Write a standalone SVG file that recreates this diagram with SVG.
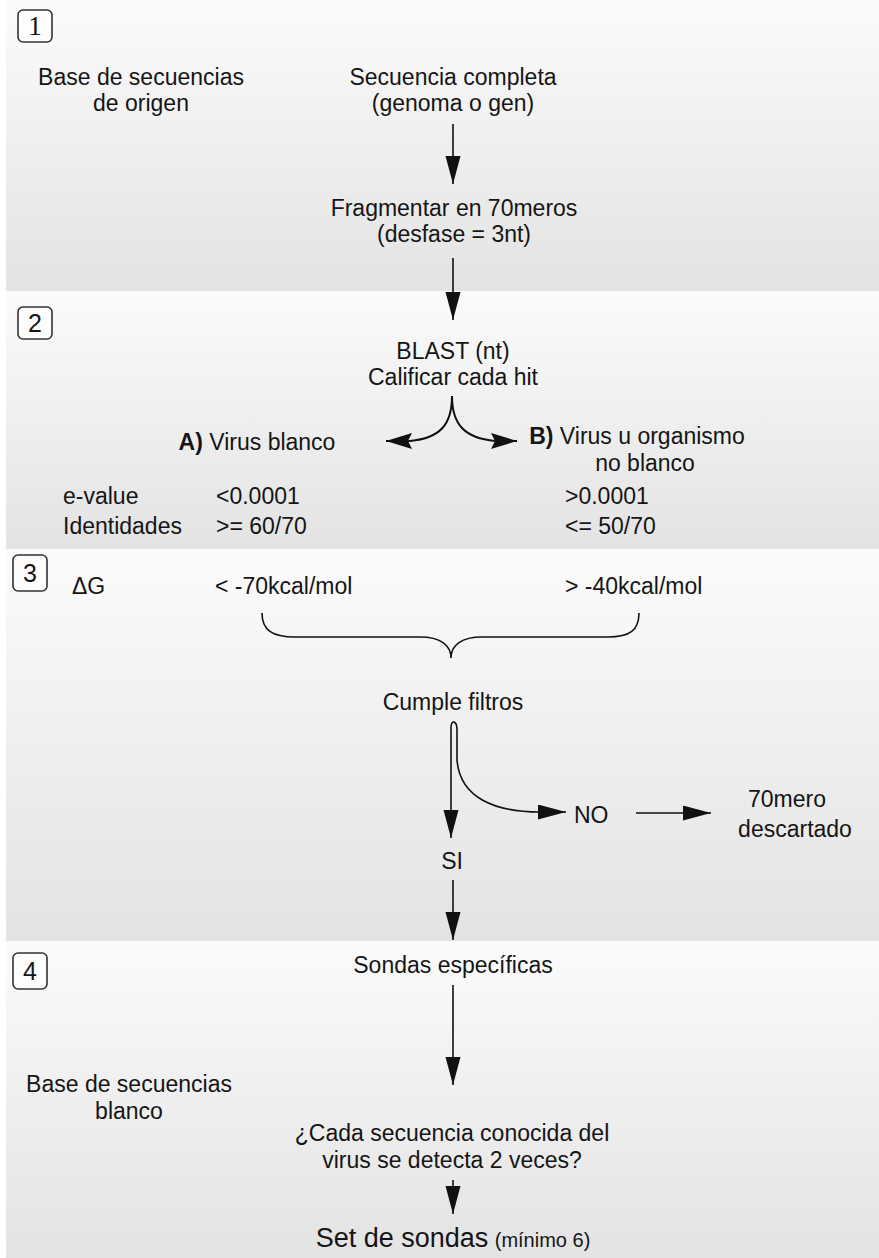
<svg xmlns="http://www.w3.org/2000/svg" width="879" height="1258" viewBox="0 0 879 1258">
<defs>
<linearGradient id="bg" x1="0" y1="0" x2="0" y2="1">
<stop offset="0" stop-color="#fbfbfb"/>
<stop offset="1" stop-color="#e3e3e3"/>
</linearGradient>
<marker id="ah" markerUnits="userSpaceOnUse" markerWidth="30" markerHeight="16" refX="28" refY="7.5" orient="auto">
<path d="M0,0 L28,7.5 L0,15 z" fill="#111"/>
</marker>
<marker id="ahs" markerUnits="userSpaceOnUse" markerWidth="30" markerHeight="18" refX="26" refY="8" orient="auto">
<path d="M0,0 L26,8 L0,16 L4,8 z" fill="#111"/>
</marker>
</defs>
<style>
text{font-family:"Liberation Sans",Arial,sans-serif;font-size:23px;fill:#151515}
.m{text-anchor:middle}
.b{font-weight:bold}
.box{fill:#fdfdfd;stroke:#333;stroke-width:1.6}
.num{font-size:25px;text-anchor:middle}
.ln{fill:none;stroke:#111;stroke-width:1.6}
.arr{fill:none;stroke:#111;stroke-width:1.6;marker-end:url(#ah)}
.arrs{fill:none;stroke:#111;stroke-width:2;marker-end:url(#ahs)}
</style>

<g id="sections">
<rect x="6" y="0" width="873" height="291" fill="url(#bg)"/>
<rect x="6" y="291" width="873" height="258" fill="url(#bg)"/>
<rect x="6" y="549" width="873" height="392" fill="url(#bg)"/>
<rect x="6" y="941" width="873" height="317" fill="url(#bg)"/>
</g>

<g id="step1">
<rect class="box" x="18" y="10" width="34" height="32" rx="5"/>
<text class="num" x="35" y="35" style="font-family:'Liberation Serif',serif;font-size:27px">1</text>
</g>
<g id="step2">
<rect class="box" x="18" y="307" width="34" height="32" rx="5"/>
<text class="num" x="35" y="332">2</text>
</g>
<g id="step3">
<rect class="box" x="13" y="555" width="34" height="36" rx="5"/>
<text class="num" x="30" y="582">3</text>
</g>
<g id="step4">
<rect class="box" x="13" y="953" width="34" height="36" rx="5"/>
<text class="num" x="30" y="980">4</text>
</g>

<g id="base-origen">
<text class="m" x="141" y="85">Base de secuencias</text>
<text class="m" x="141" y="111">de origen</text>
</g>
<g id="secuencia">
<text class="m" x="453" y="85">Secuencia completa</text>
<text class="m" x="453" y="111">(genoma o gen)</text>
</g>
<g id="fragmentar">
<text class="m" x="454" y="216">Fragmentar en 70meros</text>
<text class="m" x="454" y="242">(desfase = 3nt)</text>
</g>
<g id="blast">
<text class="m" x="453" y="359">BLAST (nt)</text>
<text class="m" x="453" y="385">Calificar cada hit</text>
</g>
<g id="virus-blanco">
<text class="m" x="257" y="450"><tspan class="b">A)</tspan> Virus blanco</text>
</g>
<g id="virus-no-blanco">
<text class="m" x="637" y="444"><tspan class="b">B)</tspan> Virus u organismo</text>
<text class="m" x="645" y="471">no blanco</text>
</g>
<g id="criterios">
<text x="63" y="504">e-value</text>
<text x="63" y="534">Identidades</text>
<text x="216" y="504">&lt;0.0001</text>
<text x="216" y="534">&gt;= 60/70</text>
<text x="565" y="504">&gt;0.0001</text>
<text x="565" y="534">&lt;= 50/70</text>
</g>
<g id="deltaG">
<text x="72" y="594">ΔG</text>
<text x="215" y="594">&lt; -70kcal/mol</text>
<text x="565" y="594">&gt; -40kcal/mol</text>
</g>
<g id="cumple">
<text class="m" x="453" y="710">Cumple filtros</text>
</g>
<g id="no">
<text x="574" y="823">NO</text>
</g>
<g id="descartado">
<text class="m" x="787" y="807">70mero</text>
<text class="m" x="795" y="837">descartado</text>
</g>
<g id="si">
<text class="m" x="452" y="869">SI</text>
</g>
<g id="sondas">
<text class="m" x="453" y="973">Sondas específicas</text>
</g>
<g id="base-blanco">
<text class="m" x="129" y="1092">Base de secuencias</text>
<text class="m" x="129" y="1119">blanco</text>
</g>
<g id="pregunta">
<text class="m" x="452" y="1141">¿Cada secuencia conocida del</text>
<text class="m" x="452" y="1168">virus se detecta 2 veces?</text>
</g>
<g id="set">
<text class="m" x="453" y="1247"><tspan style="font-size:27px">Set de sondas</tspan> <tspan style="font-size:20px">(mínimo 6)</tspan></text>
</g>

<g id="connectors">
<path class="arr" d="M453,124 L453,184"/>
<path class="arr" d="M453,258 L453,320"/>
<path class="arrs" d="M452,396 C452,425 440,438 410,441 L386,441"/>
<path class="arrs" d="M452,396 C452,425 465,438 495,441 L517,441"/>
<path class="ln" d="M262,613 C262,630 272,637 295,637 L420,637 C440,637 451,645 451,658 C451,645 462,637 482,637 L608,637 C630,637 639,630 639,613"/>
<path class="arr" d="M451,727 L451,838"/>
<path class="arr" d="M451,727 C451,720 457,720 457,730 L457,760 C460,798 495,812 540,812 L566,812"/>
<path class="arr" d="M636,813 L711,813"/>
<path class="arr" d="M453,880 L453,940"/>
<path class="arr" d="M453,985 L453,1085"/>
<path class="arr" d="M453,1180 L453,1214"/>
</g>
</svg>
